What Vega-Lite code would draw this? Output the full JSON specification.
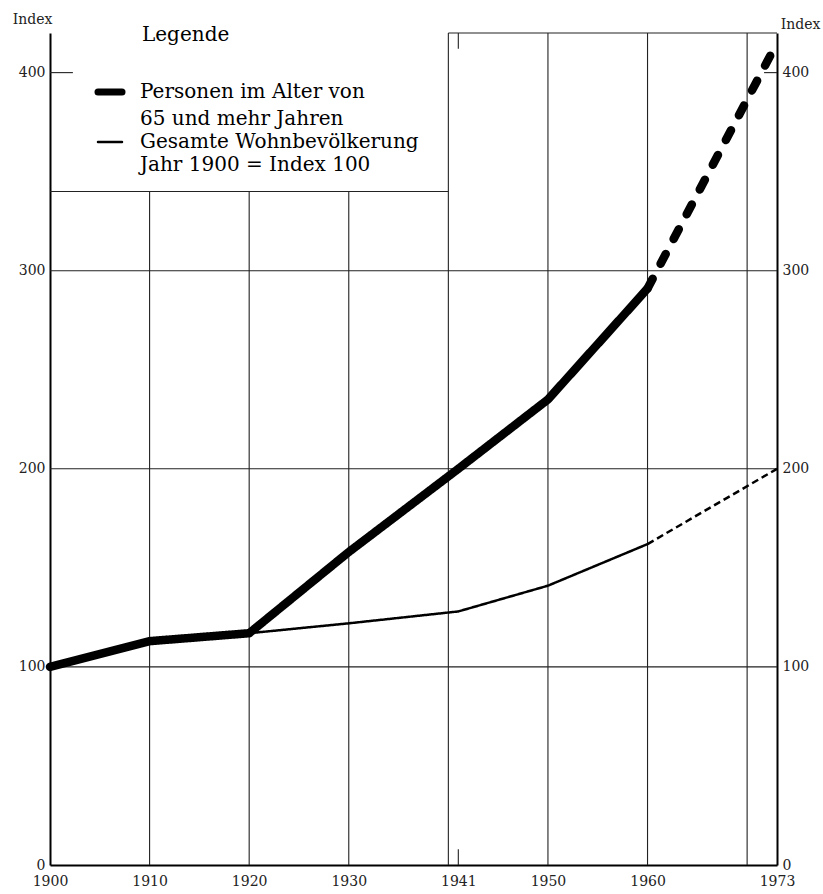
{
  "$schema": "https://vega.github.io/schema/vega-lite/v6.json",
  "width": 727,
  "height": 832,
  "autosize": "none",
  "padding": {"left": 50, "top": 33, "right": 46, "bottom": 29},
  "background": "white",
  "config": {"view": {"stroke": null}, "font": "DejaVu Serif"},
  "datasets": {
    "lines": [
      {"series": "P", "phase": "a", "year": 1900, "value": 100},
      {"series": "P", "phase": "a", "year": 1910, "value": 113},
      {"series": "P", "phase": "a", "year": 1920, "value": 117},
      {"series": "P", "phase": "a", "year": 1930, "value": 158},
      {"series": "P", "phase": "a", "year": 1941, "value": 200},
      {"series": "P", "phase": "a", "year": 1950, "value": 235},
      {"series": "P", "phase": "a", "year": 1960, "value": 291},
      {"series": "P", "phase": "b", "year": 1960, "value": 291},
      {"series": "P", "phase": "b", "year": 1973, "value": 415},
      {"series": "G", "phase": "a", "year": 1900, "value": 100},
      {"series": "G", "phase": "a", "year": 1910, "value": 113},
      {"series": "G", "phase": "a", "year": 1920, "value": 117},
      {"series": "G", "phase": "a", "year": 1930, "value": 122},
      {"series": "G", "phase": "a", "year": 1941, "value": 128},
      {"series": "G", "phase": "a", "year": 1950, "value": 141},
      {"series": "G", "phase": "a", "year": 1960, "value": 162},
      {"series": "G", "phase": "b", "year": 1960, "value": 162},
      {"series": "G", "phase": "b", "year": 1973, "value": 200}
    ],
    "vgrid": [
      {"x": 1910, "y": 0, "y2": 340},
      {"x": 1920, "y": 0, "y2": 340},
      {"x": 1930, "y": 0, "y2": 340},
      {"x": 1940, "y": 0, "y2": 420},
      {"x": 1950, "y": 0, "y2": 420},
      {"x": 1960, "y": 0, "y2": 420},
      {"x": 1970, "y": 0, "y2": 420},
      {"x": 1941, "y": 0, "y2": 8},
      {"x": 1941, "y": 412, "y2": 420}
    ],
    "hgrid": [
      {"y": 100, "x": 1900, "x2": 1973},
      {"y": 200, "x": 1900, "x2": 1973},
      {"y": 300, "x": 1900, "x2": 1973},
      {"y": 340, "x": 1900, "x2": 1940},
      {"y": 420, "x": 1940, "x2": 1973},
      {"y": 400, "x": 1900, "x2": 1902.3},
      {"y": 400, "x": 1971.7, "x2": 1973}
    ]
  },
  "layer": [
    {
      "data": {"name": "vgrid"},
      "mark": {"type": "rule", "stroke": "#222", "strokeWidth": 1.1},
      "encoding": {
        "x": {"field": "x", "type": "quantitative", "scale": {"domain": [1900, 1973], "nice": false, "zero": false},
          "axis": {"title": null, "values": [1900, 1910, 1920, 1930, 1941, 1950, 1960, 1973], "format": "d", "ticks": false, "grid": false, "domain": true, "domainColor": "#000", "domainWidth": 2, "labelPadding": 9, "labelFlush": false, "labelFont": "DejaVu Serif", "labelFontSize": 14, "labelColor": "#222"}},
        "y": {"field": "y", "type": "quantitative", "scale": {"domain": [0, 420], "nice": false},
          "axis": {"orient": "left", "values": [0, 100, 200, 300, 400], "ticks": false, "grid": false, "domain": true, "domainColor": "#000", "domainWidth": 2, "labelPadding": 5, "labelFont": "DejaVu Serif", "labelFontSize": 14, "labelColor": "#222",
            "title": "Index", "titleAngle": 0, "titleX": -18, "titleY": -14, "titleAlign": "center", "titleBaseline": "middle", "titleFont": "DejaVu Serif", "titleFontSize": 14, "titleFontWeight": "normal", "titleColor": "#222"}},
        "y2": {"field": "y2"}
      }
    },
    {
      "data": {"name": "hgrid"},
      "mark": {"type": "rule", "stroke": "#222", "strokeWidth": 1.1},
      "encoding": {
        "y": {"field": "y", "type": "quantitative",
          "axis": {"orient": "right", "values": [0, 100, 200, 300, 400], "ticks": false, "grid": false, "domain": true, "domainColor": "#000", "domainWidth": 2, "labelPadding": 5, "labelFont": "DejaVu Serif", "labelFontSize": 14, "labelColor": "#222",
            "title": "Index", "titleAngle": 0, "titleX": 23, "titleY": -9, "titleAlign": "center", "titleBaseline": "middle", "titleFont": "DejaVu Serif", "titleFontSize": 14, "titleFontWeight": "normal", "titleColor": "#222"}},
        "x": {"field": "x", "type": "quantitative",
          "axis": {"title": null, "values": [1900, 1910, 1920, 1930, 1941, 1950, 1960, 1973], "format": "d", "ticks": false, "grid": false, "domain": true, "domainColor": "#000", "domainWidth": 2, "labelPadding": 9, "labelFlush": false, "labelFont": "DejaVu Serif", "labelFontSize": 14, "labelColor": "#222"}},
        "x2": {"field": "x2"}
      }
    },
    {
      "data": {"name": "lines"},
      "transform": [{"filter": "datum.series === 'G'"}],
      "mark": {"type": "line", "stroke": "#000", "strokeWidth": 2.5, "strokeCap": "butt"},
      "encoding": {
        "x": {"field": "year", "type": "quantitative",
          "axis": {"title": null, "values": [1900, 1910, 1920, 1930, 1941, 1950, 1960, 1973], "format": "d", "ticks": false, "grid": false, "domain": true, "domainColor": "#000", "domainWidth": 2, "labelPadding": 9, "labelFlush": false, "labelFont": "DejaVu Serif", "labelFontSize": 14, "labelColor": "#222"}},
        "y": {"field": "value", "type": "quantitative", "axis": null},
        "strokeDash": {"field": "phase", "type": "nominal", "scale": {"domain": ["a", "b"], "range": [[1, 0], [7, 4]]}, "legend": null}
      }
    },
    {
      "data": {"name": "lines"},
      "transform": [{"filter": "datum.series === 'P'"}],
      "mark": {"type": "line", "strokeWidth": 8.5, "strokeCap": "round", "strokeJoin": "round"},
      "encoding": {
        "x": {"field": "year", "type": "quantitative",
          "axis": {"title": null, "values": [1900, 1910, 1920, 1930, 1941, 1950, 1960, 1973], "format": "d", "ticks": false, "grid": false, "domain": true, "domainColor": "#000", "domainWidth": 2, "labelPadding": 9, "labelFlush": false, "labelFont": "DejaVu Serif", "labelFontSize": 14, "labelColor": "#222"}},
        "y": {"field": "value", "type": "quantitative", "axis": null},
        "color": {"field": "series", "type": "nominal", "scale": {"domain": ["P", "P2", "G", "G2"], "range": ["#000", "#000", "#000", "#000"]},
          "legend": {
            "orient": "none", "legendX": 50, "legendY": -8, "padding": 0,
            "title": "Legende",
            "titleFont": "DejaVu Serif", "titleFontSize": 20, "titleFontWeight": "normal", "titleColor": "#000", "titlePadding": 37,
            "labelFont": "DejaVu Serif", "labelFontSize": 20, "labelColor": "#000", "labelOffset": 20, "labelLimit": 500,
            "labelExpr": "datum.value === 'P' ? 'Personen im Alter von' : datum.value === 'P2' ? '65 und mehr Jahren' : datum.value === 'G' ? 'Gesamte Wohnbevölkerung' : 'Jahr 1900 = Index 100'",
            "symbolType": "stroke", "symbolSize": 576, "symbolStrokeColor": "#000", "rowPadding": 3,
            "encode": {
              "title": {"update": {"dx": {"value": 42}}},
              "symbols": {"update": {"strokeWidth": {"signal": "datum.value === 'P' ? 7 : datum.value === 'G' ? 2.5 : 0"}, "strokeCap": {"value": "round"}}}
            }
          }},
        "strokeDash": {"field": "phase", "type": "nominal", "scale": {"domain": ["a", "b"], "range": [[1, 0], [11, 17]]}, "legend": null}
      }
    }
  ],
  "resolve": {"axis": {"y": "independent"}, "scale": {"strokeDash": "independent"}}
}
